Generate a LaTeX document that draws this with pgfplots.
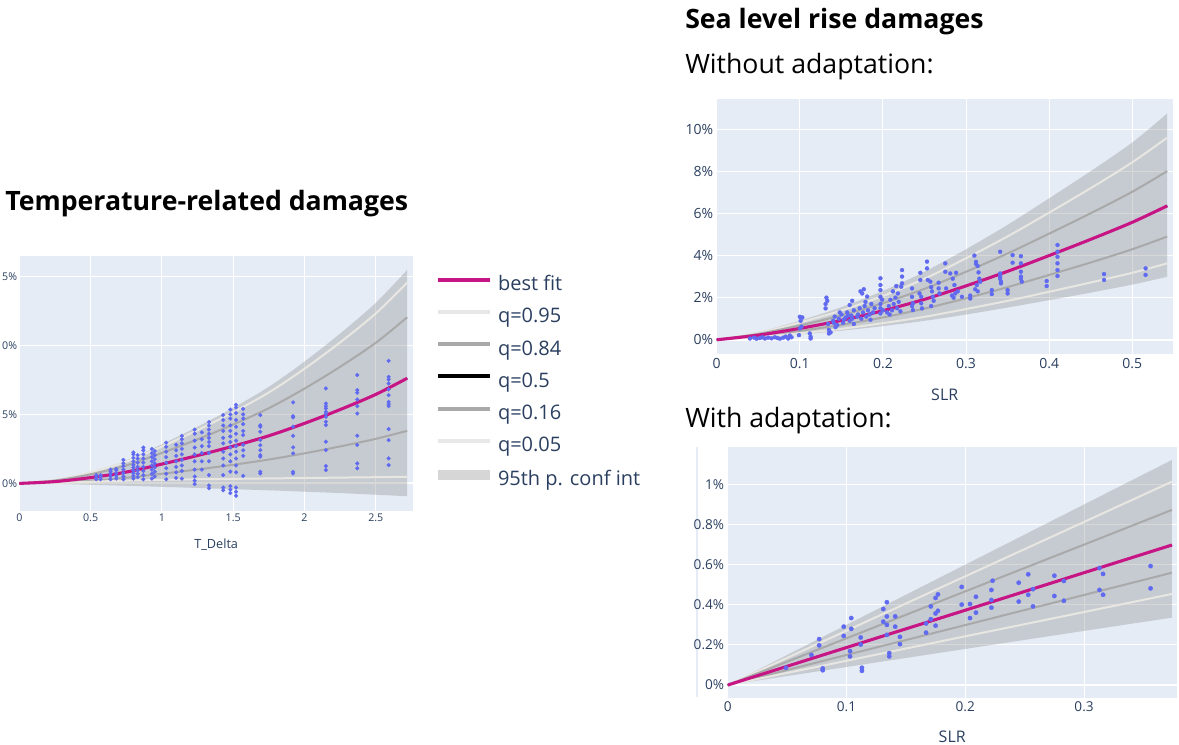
\documentclass[border=0pt]{standalone}
\usepackage{fontspec}
\setmainfont{Open Sans}
\usepackage{pgfplots}
\pgfplotsset{compat=1.18}
\usepgfplotslibrary{fillbetween}
\usepackage{pgfplotstable}

\definecolor{bgc}{HTML}{E5ECF6}
\definecolor{tickc}{HTML}{2A3F5F}
\definecolor{bandc}{HTML}{808080}
\definecolor{qlight}{HTML}{E8E6E1}
\definecolor{qmid}{HTML}{A9A9A9}
\definecolor{fitc}{HTML}{C71585}
\definecolor{ptc}{HTML}{5F6AF0}
\definecolor{legband}{HTML}{D6D6D6}
\definecolor{leglight}{HTML}{E8E8E8}

% fitted curves: temperature damages (percent of GDP)
\pgfplotstableread{
x    top   q95   q84   best  q16   q05   bot
0    0     0     0     0     0     0     0
0.25 0.26  0.25  0.21  0.13  0.065 0.03  -0.03
0.5  0.85  0.80  0.66  0.42  0.21  0.12  -0.10
0.75 1.66  1.57  1.30  0.82  0.41  0.20  -0.17
1.0  2.84  2.67  2.21  1.40  0.70  0.26  -0.25
1.25 4.10  3.86  3.19  2.02  1.01  0.30  -0.33
1.5  5.48  5.16  4.27  2.70  1.35  0.33  -0.42
1.75 7.00  6.59  5.45  3.45  1.73  0.36  -0.50
2.0  8.83  8.31  6.87  4.35  2.18  0.39  -0.60
2.25 10.86 10.22 8.45  5.35  2.68  0.42  -0.70
2.5  13.09 12.32 10.19 6.45  3.23  0.45  -0.82
2.72 15.47 14.55 12.04 7.62  3.81  0.48  -0.93
}\tcurves

% fitted curves: sea level rise, no adaptation
\pgfplotstableread{
x     top   q95  q84  best q16  q05  bot
0     0     0    0    0    0    0    0
0.05  0.37  0.33 0.28 0.22 0.17 0.13 0.10
0.1   0.91  0.82 0.68 0.54 0.42 0.31 0.25
0.15  1.55  1.39 1.16 0.92 0.71 0.52 0.43
0.2   2.32  2.08 1.74 1.38 1.06 0.79 0.65
0.25  3.23  2.90 2.42 1.92 1.48 1.09 0.90
0.3   4.30  3.87 3.23 2.56 1.97 1.46 1.20
0.35  5.46  4.91 4.10 3.25 2.50 1.85 1.53
0.4   6.72  6.04 5.04 4.00 3.08 2.28 1.88
0.45  8.01  7.20 6.01 4.77 3.67 2.72 2.24
0.5   9.37  8.43 7.03 5.58 4.30 3.18 2.62
0.542 10.75 9.60 8.01 6.36 4.90 3.63 2.99
}\scurves

% fitted curves: sea level rise, with adaptation
\pgfplotstableread{
x     top   q95   q84   best  q16   q05   bot
0     0     0     0     0     0     0     0
0.1   0.300 0.271 0.233 0.187 0.150 0.121 0.090
0.2   0.600 0.542 0.467 0.373 0.299 0.243 0.180
0.3   0.900 0.813 0.700 0.560 0.449 0.364 0.270
0.374 1.122 1.014 0.873 0.698 0.560 0.454 0.336
}\acurves

\pgfplotsset{
  dmg/.style={
    scale only axis,
    axis background/.style={fill=bgc},
    axis line style={draw=none},
    tick style={draw=none},
    grid=major,
    major grid style={white, line width=0.75pt},
    extra y ticks={0}, extra y tick labels={},
    extra y tick style={grid=major, major grid style={white, line width=1.6pt}},
    ticklabel style={text=tickc},
    yticklabel style={anchor=east, inner sep=0pt},
    xticklabel style={anchor=north, inner sep=0pt},
    xlabel style={text=tickc, anchor=center, at={(axis description cs:0.5,0)}},
    clip=true,
  },
  bandfill/.style={fill=bandc, fill opacity=0.3, draw=none, forget plot},
  qhi/.style={qlight, line width=1.5pt, smooth, forget plot},
  qlo/.style={qmid, line width=1.5pt, smooth, forget plot},
  qmed/.style={black, line width=1.2pt, smooth, forget plot},
  fit/.style={fitc, line width=2.3pt, smooth, forget plot},
  pts/.style={only marks, mark=*, color=ptc,
    mark options={solid, fill=ptc, draw=ptc, line width=0.2pt}, forget plot},
  edge/.style={draw=none, smooth, forget plot},
}

\begin{document}
\begin{tikzpicture}

% ---------------- temperature-related damages ----------------
\begin{axis}[dmg,
  at={(14.475pt,-192pt)}, anchor=north west,
  width=295.28pt, height=191.25pt,
  xmin=0, xmax=2.761, ymin=-2.0, ymax=16.48,
  xtick={0,0.5,1,1.5,2,2.5}, xticklabels={0,0.5,1,1.5,2,2.5},
  ytick={0,5,10,15}, yticklabels={0\%,5\%,10\%,15\%},
  ticklabel style={font=\fontsize{8}{9.6}\selectfont},
  yticklabel style={xshift=-1.5pt},
  xticklabel style={yshift=-1.8pt},
  xlabel={T\_Delta},
  xlabel style={font=\fontsize{9.5}{11}\selectfont, yshift=-25.5pt},
  legend cell align=left,
  legend image code/.code={\draw[#1, line cap=butt] (0pt,4.5pt) -- (39pt,4.5pt);},
  legend style={at={(1.051,0.923)}, anchor=north west, draw=none, fill=none,
    inner sep=0pt, font=\fontsize{15}{18}\selectfont, text=tickc,
    row sep=9.7pt, column sep=2pt,
    nodes={inner sep=0pt, text height=11pt, text depth=3.5pt}},
]
\addlegendimage{fitc, line width=3pt}\addlegendentry{best fit}
\addlegendimage{leglight, line width=3pt}\addlegendentry{q=0.95}
\addlegendimage{qmid, line width=3pt}\addlegendentry{q=0.84}
\addlegendimage{black, line width=3pt}\addlegendentry{q=0.5}
\addlegendimage{qmid, line width=3pt}\addlegendentry{q=0.16}
\addlegendimage{leglight, line width=3pt}\addlegendentry{q=0.05}
\addlegendimage{legband, line width=7.5pt}\addlegendentry{95th p. conf int}

\addplot[edge, name path=tA] table[x=x, y=top] {\tcurves};
\addplot[edge, name path=tB] table[x=x, y=bot] {\tcurves};
\addplot[bandfill] fill between[of=tA and tB];

\addplot[pts, mark size=1.45pt] coordinates {
(0.54,0.3)(0.54,0.45)(0.54,0.6)
(0.57,0.3)(0.57,0.5)(0.57,0.6)
(0.64,0.3)(0.64,0.5)(0.64,0.7)(0.64,0.85)(0.64,1.0)
(0.68,0.35)(0.68,0.55)(0.68,0.75)(0.68,0.95)(0.68,1.05)
(0.73,0.3)(0.73,0.5)(0.73,0.75)(0.73,1.0)(0.73,1.25)(0.73,1.45)(0.73,1.7)
(0.80,0.35)(0.80,0.55)(0.80,0.75)(0.80,0.95)(0.80,1.15)(0.80,1.35)(0.80,1.6)(0.80,1.85)(0.80,2.1)(0.80,2.25)
(0.83,0.45)(0.83,0.7)(0.83,0.95)(0.83,1.2)(0.83,1.5)(0.83,1.8)(0.83,2.05)
(0.87,0.3)(0.87,0.6)(0.87,0.9)(0.87,1.2)(0.87,1.5)(0.87,1.8)(0.87,2.1)(0.87,2.4)(0.87,2.6)
(0.93,0.35)(0.93,0.7)(0.93,1.0)(0.93,1.3)(0.93,1.6)(0.93,1.9)(0.93,2.2)(0.93,2.5)
(0.95,0.5)(0.95,0.85)(0.95,1.15)(0.95,1.45)(0.95,1.75)(0.95,2.05)(0.95,2.35)
(1.03,0.3)(1.03,0.7)(1.03,1.1)(1.03,1.5)(1.03,1.9)(1.03,2.3)(1.03,2.65)(1.03,2.95)
(1.10,0.4)(1.10,0.8)(1.10,1.2)(1.10,1.6)(1.10,2.0)(1.10,2.4)(1.10,2.8)
(1.14,0.35)(1.14,0.9)(1.14,1.3)(1.14,1.7)(1.14,2.1)(1.14,2.5)(1.14,2.9)(1.14,3.2)(1.14,3.45)
(1.23,-0.05)(1.23,0.2)(1.23,0.5)(1.23,1.0)(1.23,1.6)(1.23,2.1)(1.23,2.6)(1.23,3.1)(1.23,3.6)(1.23,3.9)
(1.28,1.0)(1.28,1.6)(1.28,2.2)(1.28,2.7)(1.28,3.2)(1.28,3.7)
(1.33,-0.35)(1.33,-0.15)(1.33,0.6)(1.33,1.6)(1.33,2.2)(1.33,2.7)(1.33,3.0)(1.33,3.3)(1.33,3.6)(1.33,3.9)(1.33,4.2)(1.33,4.45)
(1.43,-0.5)(1.43,-0.3)(1.43,0.6)(1.43,1.3)(1.43,1.8)(1.43,2.3)(1.43,2.9)(1.43,3.3)(1.43,3.8)(1.43,4.2)(1.43,4.6)(1.43,4.95)
(1.48,-0.7)(1.48,-0.45)(1.48,-0.2)(1.48,0.85)(1.48,1.6)(1.48,2.1)(1.48,2.6)(1.48,3.0)(1.48,3.4)(1.48,3.8)(1.48,4.2)(1.48,4.7)(1.48,5.0)(1.48,5.35)
(1.52,-0.9)(1.52,-0.6)(1.52,-0.3)(1.52,0.8)(1.52,1.3)(1.52,1.8)(1.52,2.3)(1.52,2.7)(1.52,3.1)(1.52,3.6)(1.52,4.1)(1.52,4.6)(1.52,5.1)(1.52,5.5)(1.52,5.7)
(1.57,0.55)(1.57,2.0)(1.57,2.4)(1.57,2.8)(1.57,3.5)(1.57,3.8)(1.57,4.3)(1.57,4.7)(1.57,5.0)(1.57,5.4)
(1.69,0.72)(1.69,0.85)(1.69,1.93)(1.69,2.05)(1.69,2.41)(1.69,2.77)(1.69,3.14)(1.69,3.74)(1.69,4.1)(1.69,4.22)(1.69,4.95)
(1.92,0.72)(1.92,0.84)(1.92,2.17)(1.92,2.61)(1.92,3.45)(1.92,4.11)(1.92,4.78)(1.92,4.88)(1.92,5.87)
(2.15,0.97)(2.15,1.26)(2.15,2.41)(2.15,3.02)(2.15,4.23)(2.15,4.47)(2.15,4.83)(2.15,5.02)(2.15,5.19)(2.15,5.43)(2.15,5.6)(2.15,5.79)(2.15,6.88)
(2.37,1.09)(2.37,1.45)(2.37,2.78)(2.37,3.45)(2.37,5.07)(2.37,5.6)(2.37,6.08)(2.37,6.57)(2.37,6.76)(2.37,7.85)
(2.59,1.33)(2.59,1.81)(2.59,3.14)(2.59,3.94)(2.59,5.6)(2.59,5.75)(2.59,5.91)(2.59,6.4)(2.59,6.81)(2.59,7.24)(2.59,7.53)(2.59,7.72)(2.59,8.88)
};

\addplot[qhi] table[x=x, y=q95] {\tcurves};
\addplot[qlo] table[x=x, y=q84] {\tcurves};
\addplot[qlo] table[x=x, y=q16] {\tcurves};
\addplot[qhi] table[x=x, y=q05] {\tcurves};
\addplot[qmed] table[x=x, y=best] {\tcurves};
\addplot[fit] table[x=x, y=best] {\tcurves};
\end{axis}

% ---------------- sea level rise, without adaptation ----------------
\begin{axis}[dmg,
  at={(537.525pt,-74.475pt)}, anchor=north west,
  width=342pt, height=191.25pt,
  xmin=0, xmax=0.5486, ymin=-0.69, ymax=11.42,
  xtick={0,0.1,0.2,0.3,0.4,0.5}, xticklabels={0,0.1,0.2,0.3,0.4,0.5},
  ytick={0,2,4,6,8,10}, yticklabels={0\%,2\%,4\%,6\%,8\%,10\%},
  ticklabel style={font=\fontsize{10.5}{12.5}\selectfont},
  yticklabel style={xshift=-2.5pt},
  xticklabel style={yshift=-3pt},
  xlabel={SLR},
  xlabel style={font=\fontsize{12}{14}\selectfont, yshift=-30.5pt},
]
\addplot[edge, name path=sA] table[x=x, y=top] {\scurves};
\addplot[edge, name path=sB] table[x=x, y=bot] {\scurves};
\addplot[bandfill] fill between[of=sA and sB];

\addplot[pts, mark size=1.5pt] coordinates {
(0.040,0.06)(0.045,0.10)(0.048,0.05)(0.052,0.08)(0.055,0.12)(0.058,0.06)(0.062,0.10)(0.066,0.07)
(0.070,0.12)(0.073,0.08)(0.076,0.05)(0.080,0.10)(0.083,0.15)(0.086,0.06)(0.088,0.20)(0.090,0.12)
(0.100,1.09)(0.101,0.90)(0.103,1.06)(0.100,0.54)(0.099,0.22)(0.102,0.62)
(0.112,0.30)(0.113,0.14)(0.113,0.06)
(0.132,2.00)(0.133,1.85)(0.131,1.70)(0.131,1.49)(0.134,0.75)(0.135,0.47)(0.135,0.30)(0.137,0.35)
(0.140,0.90)(0.142,1.10)(0.145,0.70)(0.147,1.00)(0.150,1.20)(0.152,0.80)(0.155,1.05)(0.157,1.30)
(0.160,0.90)(0.162,1.15)(0.165,1.40)(0.165,0.75)(0.143,0.60)(0.148,1.30)(0.153,0.95)(0.158,1.15)
(0.163,1.00)(0.141,0.80)(0.163,1.85)(0.160,1.65)
(0.173,2.30)(0.175,2.20)(0.177,2.40)(0.170,1.20)(0.172,1.50)(0.174,1.00)(0.176,1.30)(0.178,1.60)
(0.180,1.10)(0.182,1.40)(0.184,1.20)(0.186,1.70)(0.188,1.30)(0.190,1.50)(0.179,1.80)(0.181,2.05)
(0.169,1.10)(0.185,0.95)
(0.197,2.92)(0.197,2.60)(0.197,2.36)(0.197,2.04)(0.197,1.70)(0.197,1.50)(0.197,1.25)(0.200,1.40)(0.199,1.90)
(0.205,1.30)(0.207,1.60)(0.209,1.90)(0.211,1.40)(0.213,1.70)(0.215,2.00)(0.217,1.50)(0.219,1.80)
(0.221,1.35)(0.212,2.30)(0.216,2.55)(0.208,1.20)(0.218,2.20)
(0.223,3.31)(0.223,3.00)(0.223,2.68)(0.222,2.52)
(0.235,2.44)(0.235,2.04)(0.236,1.73)(0.236,1.41)(0.235,1.60)
(0.245,3.18)(0.245,2.84)(0.246,2.04)(0.246,1.73)(0.247,1.49)(0.244,2.20)
(0.253,3.71)(0.253,3.39)(0.254,2.84)
(0.257,2.76)(0.258,2.50)(0.259,2.30)(0.260,2.04)(0.261,1.85)(0.258,1.60)
(0.267,2.71)(0.267,2.44)(0.268,2.20)
(0.275,3.63)(0.275,3.23)(0.276,2.44)
(0.281,3.15)(0.284,2.90)(0.286,2.60)(0.288,3.18)(0.290,2.30)(0.283,2.10)(0.287,2.20)(0.285,2.00)
(0.295,2.04)(0.305,1.96)(0.305,2.10)
(0.310,4.00)(0.312,3.70)(0.314,3.50)(0.315,3.20)(0.316,2.90)(0.313,2.60)(0.311,2.40)(0.317,2.75)(0.312,3.60)(0.314,2.30)
(0.331,2.36)(0.331,2.17)
(0.341,4.18)(0.341,3.15)(0.341,3.00)(0.342,2.76)(0.342,2.68)(0.341,2.90)
(0.350,2.36)(0.350,2.20)
(0.356,4.02)(0.356,3.66)
(0.366,3.97)(0.366,3.63)(0.366,3.23)(0.366,3.00)(0.367,2.76)(0.366,2.90)
(0.397,2.79)(0.397,2.55)
(0.410,4.50)(0.410,4.18)(0.410,3.94)(0.410,3.63)(0.410,3.31)(0.410,3.03)
(0.466,3.12)(0.466,2.84)
(0.516,3.39)(0.516,3.08)
};

\addplot[qhi] table[x=x, y=q95] {\scurves};
\addplot[qlo] table[x=x, y=q84] {\scurves};
\addplot[qlo] table[x=x, y=q16] {\scurves};
\addplot[qhi] table[x=x, y=q05] {\scurves};
\addplot[qmed] table[x=x, y=best] {\scurves};
\addplot[fit] table[x=x, y=best] {\scurves};
\end{axis}

% thin strip beside the third panel
\fill[bgc] (522pt,-335.25pt) rectangle (523.3pt,-523pt);
\draw[white, line width=1.5pt] (523.3pt,-513.75pt) -- (530pt,-513.75pt);

% ---------------- sea level rise, with adaptation ----------------
\begin{axis}[dmg,
  at={(545.775pt,-335.475pt)}, anchor=north west,
  width=336.75pt, height=187.8pt,
  xmin=0, xmax=0.378, ymin=-0.063, ymax=1.185,
  xtick={0,0.1,0.2,0.3}, xticklabels={0,0.1,0.2,0.3},
  ytick={0,0.2,0.4,0.6,0.8,1}, yticklabels={0\%,0.2\%,0.4\%,0.6\%,0.8\%,1\%},
  ticklabel style={font=\fontsize{10.2}{12}\selectfont},
  yticklabel style={xshift=-2.5pt},
  xticklabel style={yshift=-3pt},
  xlabel={SLR},
  xlabel style={font=\fontsize{12}{14}\selectfont, yshift=-29.25pt},
]
\addplot[edge, name path=aA] table[x=x, y=top] {\acurves};
\addplot[edge, name path=aB] table[x=x, y=bot] {\acurves};
\addplot[bandfill] fill between[of=aA and aB];

\addplot[pts, mark size=1.65pt] coordinates {
(0.049,0.086)(0.0705,0.150)(0.077,0.229)(0.077,0.198)(0.080,0.083)(0.080,0.074)
(0.0977,0.291)(0.0977,0.245)(0.103,0.169)(0.103,0.143)(0.104,0.334)(0.104,0.280)
(0.112,0.237)(0.112,0.202)(0.113,0.086)(0.113,0.071)
(0.131,0.379)(0.131,0.316)(0.134,0.413)(0.134,0.342)(0.134,0.300)(0.134,0.250)
(0.136,0.159)(0.136,0.143)(0.141,0.342)(0.141,0.291)(0.145,0.240)(0.145,0.204)
(0.167,0.307)(0.167,0.261)(0.171,0.392)(0.171,0.328)(0.175,0.434)(0.175,0.357)(0.175,0.296)
(0.177,0.452)(0.177,0.370)(0.197,0.489)(0.197,0.401)(0.204,0.404)(0.204,0.334)
(0.209,0.440)(0.209,0.361)(0.222,0.474)(0.222,0.424)(0.222,0.386)(0.223,0.520)
(0.245,0.510)(0.245,0.416)(0.253,0.552)(0.253,0.450)(0.257,0.478)(0.257,0.392)
(0.275,0.545)(0.275,0.444)(0.283,0.519)(0.283,0.420)
(0.313,0.583)(0.313,0.474)(0.316,0.554)(0.316,0.450)
(0.356,0.593)(0.356,0.482)
};

\addplot[qhi] table[x=x, y=q95] {\acurves};
\addplot[qlo] table[x=x, y=q84] {\acurves};
\addplot[qlo] table[x=x, y=q16] {\acurves};
\addplot[qhi] table[x=x, y=q05] {\acurves};
\addplot[qmed] table[x=x, y=best] {\acurves};
\addplot[fit] table[x=x, y=best] {\acurves};
\end{axis}

% ---------------- headings ----------------
\node[anchor=base west, inner sep=0pt, font=\fontsize{20}{24}\selectfont\bfseries]
  at (3.75pt,-158pt) {Temperature-related damages};
\node[anchor=base west, inner sep=0pt, font=\fontsize{20}{24}\selectfont\bfseries]
  at (513.75pt,-21.75pt) {Sea level rise damages};
\node[anchor=base west, inner sep=0pt, font=\fontsize{20}{24}\selectfont]
  at (513.75pt,-55.5pt) {Without adaptation:};
\node[anchor=base west, inner sep=0pt, font=\fontsize{20}{24}\selectfont]
  at (513.75pt,-320.25pt) {With adaptation:};

% page area
\pgfresetboundingbox
\useasboundingbox (0,0) rectangle (884.25pt,-558.75pt);
\end{tikzpicture}
\end{document}
